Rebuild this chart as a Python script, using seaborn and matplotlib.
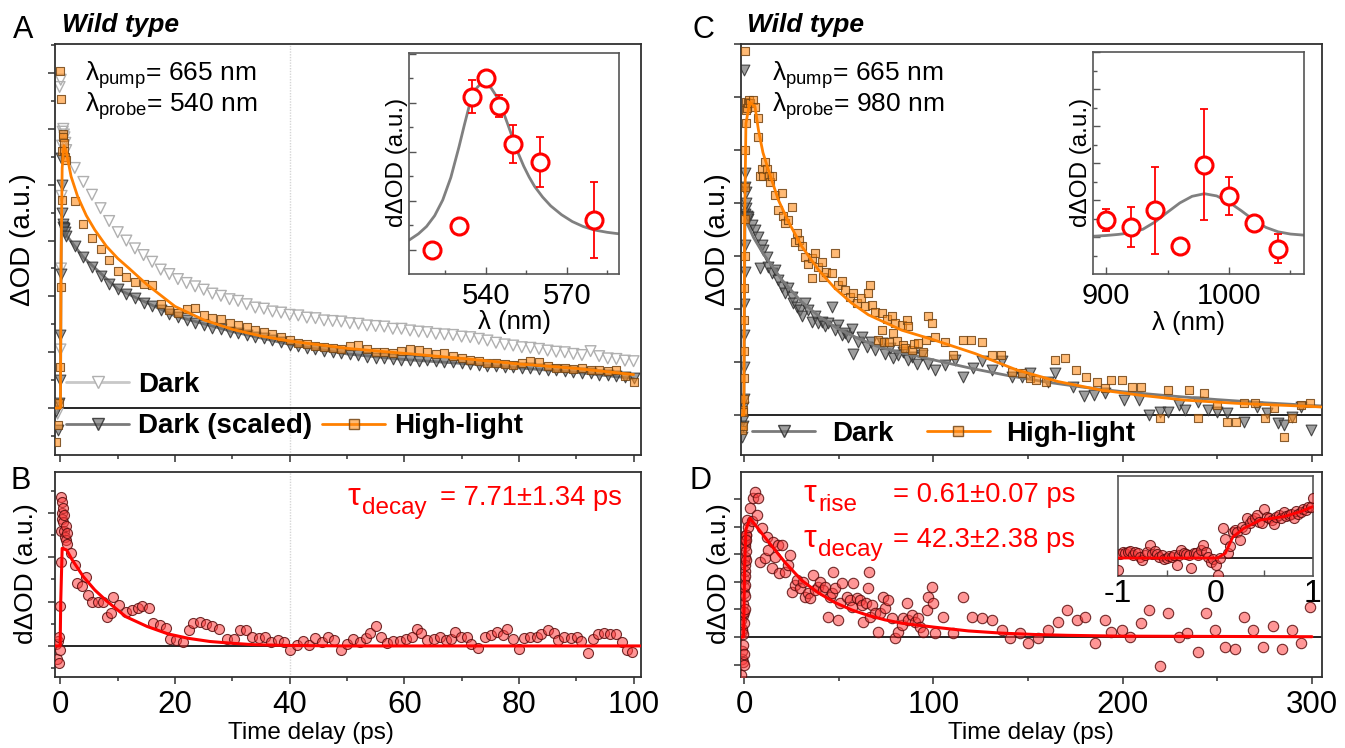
import numpy as np
import pandas as pd
import matplotlib
matplotlib.use("Agg")
import matplotlib.pyplot as plt
import seaborn as sns
from matplotlib.lines import Line2D
from matplotlib.ticker import MultipleLocator, FixedLocator

sns.set_theme(style="ticks")
plt.rcParams['font.family'] = ['Liberation Sans', 'DejaVu Sans']
plt.rcParams['mathtext.default'] = 'regular'
plt.rcParams['axes.unicode_minus'] = False
plt.rcParams['text.color'] = 'black'
plt.rcParams['axes.labelcolor'] = 'black'

# ------------------------- data: panel A (540 nm probe) -------------------------
t_a = [-0.7, -0.5, -0.3, -0.15, 0.0, 0.05, 0.1, 0.2, 0.3, 0.4, 0.5, 0.6, 0.7, 0.85,
       1, 2.5, 4, 5.5, 7, 8.5, 10, 11.5, 13, 14.5,
       16, 17.5, 19, 20.5, 22, 23.5, 25, 26.5, 28, 29.5,
       31, 32.5, 34, 35.5, 37, 38.5, 40, 41.5, 43, 44.5,
       46, 47.5, 49, 50.5, 52, 53.5, 55, 56.5, 58, 59.5,
       61, 62.5, 64, 65.5, 67, 68.5, 70, 71.5, 73, 74.5,
       76, 77.5, 79, 80.5, 82, 83.5, 85, 86.5, 88, 89.5,
       91, 92.5, 94, 95.5, 97, 98.5, 100]
dark_a = [0.0, -0.1, 0.05, 5.75, 1.05, 5.88, 2.5, 3.8, 4.7, 4.95, 5.0, 4.9, 4.85, 4.75,
          4.62, 4.30, 4.05, 3.82, 3.58, 3.35, 3.15, 3.00, 2.86, 2.74,
          2.62, 2.48, 2.40, 2.31, 2.24, 2.18, 2.12, 2.05, 2.01, 1.95,
          1.92, 1.86, 1.80, 1.78, 1.73, 1.71, 1.67, 1.66, 1.62, 1.61,
          1.57, 1.56, 1.55, 1.52, 1.51, 1.48, 1.47, 1.46, 1.42, 1.42,
          1.39, 1.37, 1.36, 1.33, 1.32, 1.31, 1.28, 1.27, 1.24, 1.21,
          1.17, 1.14, 1.12, 1.09, 1.08, 1.06, 1.03, 1.01, 1.00, 0.97,
          0.95, 1.02, 0.93, 0.89, 0.88, 0.85, 0.84]
dark_scaled_a = [-0.05, -0.4, 0.1, 0.5, 1.3, 4.47, 2.4, 4.0, 3.5, 3.3, 3.25, 3.2, 3.22, 3.15,
                 3.08, 2.90, 2.70, 2.52, 2.36, 2.22, 2.14, 2.05, 1.97, 1.88,
                 1.82, 1.76, 1.69, 1.63, 1.58, 1.53, 1.49, 1.44, 1.41, 1.37,
                 1.35, 1.31, 1.28, 1.26, 1.22, 1.18, 1.13, 1.11, 1.07, 1.05,
                 1.03, 1.00, 0.99, 0.96, 0.95, 0.92, 0.90, 0.89, 0.88, 0.87,
                 0.86, 0.85, 0.86, 0.84, 0.82, 0.82, 0.80, 0.79, 0.77, 0.76,
                 0.76, 0.74, 0.73, 0.72, 0.71, 0.70, 0.68, 0.68, 0.66, 0.65,
                 0.63, 0.62, 0.60, 0.59, 0.57, 0.55, 0.53]
high_a = [-0.6, -0.3, 0.1, 6.03, 0.74, 5.54, 2.17, 3.73, 4.6, 4.9, 4.85, 4.75, 4.6, 4.5,
          4.45, 3.70, 3.30, 3.05, 2.85, 2.66, 2.46, 2.34, 2.26, 2.22,
          2.20, 1.86, 1.75, 1.71, 1.77, 1.80, 1.67, 1.62, 1.59, 1.53,
          1.48, 1.45, 1.40, 1.36, 1.33, 1.27, 1.22, 1.17, 1.14, 1.11,
          1.10, 1.08, 1.06, 1.11, 1.13, 1.05, 1.01, 1.00, 0.98, 1.02,
          1.05, 1.04, 1.00, 0.97, 0.98, 0.93, 0.89, 0.86, 0.84, 0.80,
          0.81, 0.79, 0.77, 0.80, 0.84, 0.83, 0.76, 0.72, 0.71, 0.70,
          0.72, 0.68, 0.69, 0.67, 0.68, 0.58, 0.47]
fit_high_a = [(-0.9, 0), (0.0, 0), (0.1, 2.5), (0.3, 4.3), (0.6, 4.7), (1.0, 4.6), (1.85, 4.15),
              (3, 3.79), (4.5, 3.45), (6, 3.19), (8, 2.9), (10, 2.68), (12, 2.5), (15, 2.22),
              (20, 1.82), (25, 1.58), (30, 1.41), (35, 1.29), (40, 1.2), (50, 1.07), (60, 0.98),
              (70, 0.89), (80, 0.79), (90, 0.71), (100, 0.6)]
fit_dark_a = [(-0.9, 0), (0.0, 0), (0.15, 3.3), (1, 3.1), (4, 2.7), (10, 2.13), (20, 1.65),
              (30, 1.37), (40, 1.14), (50, 0.97), (60, 0.87), (70, 0.8), (80, 0.72), (90, 0.64),
              (100, 0.53)]

# inset A: amplitude spectrum
ins_a_wl = [520, 530, 535, 540, 545, 550, 560, 580]
ins_a_amp = [0.0, 0.48, 3.13, 3.50, 2.94, 2.16, 1.79, 0.61]
ins_a_err = [0.12, 0.0, 0.33, 0.10, 0.23, 0.39, 0.51, 0.77]
ins_a_fit = [(511.5, 0.20), (515, 0.33), (518, 0.48), (521, 0.70), (524, 1.02), (527, 1.48),
             (530, 2.10), (532, 2.55), (534, 2.98), (536, 3.27), (538, 3.39), (540, 3.40),
             (542, 3.30), (544, 3.13), (546, 2.88), (548, 2.58), (550, 2.27), (552, 1.97),
             (554, 1.71), (556, 1.49), (558, 1.30), (561, 1.08), (564, 0.90), (568, 0.72),
             (572, 0.58), (576, 0.48), (580, 0.41), (585, 0.36), (589.3, 0.33)]

# ------------------------- data: panel B (difference, 540 nm) -------------------------
diff_b = [(-0.8, 0.05), (-0.6, -0.3), (-0.45, 0.12), (-0.3, -0.38), (-0.2, 0.2), (-0.1, -0.1),
          (0.0, 0.9), (0.05, 1.9), (0.1, 2.6), (0.15, 3.36), (0.2, 3.25), (0.25, 3.0), (0.3, 2.85),
          (0.4, 3.1), (0.5, 2.8), (0.6, 2.6), (0.7, 2.95), (0.8, 2.45), (0.9, 2.7), (1.0, 2.39),
          (1.1, 2.55), (1.2, 2.3),
          (1.8, 2.09), (2.6, 1.82), (2.9, 1.41), (3.7, 1.34), (4.4, 1.56), (4.8, 1.15), (5.5, 1.0),
          (6.6, 1.0), (7.4, 1.0), (8.1, 0.66), (8.8, 0.74), (9.2, 1.11), (10.3, 0.92), (11.4, 0.77),
          (12.5, 0.81), (13.6, 0.85), (14.3, 0.89), (15.5, 0.85), (16.2, 0.51), (17.3, 0.47),
          (18.4, 0.40), (19.1, 0.16), (20.2, 0.14), (21.3, 0.10), (22.4, 0.36), (23.2, 0.51),
          (24.3, 0.55), (25.4, 0.50), (26.5, 0.46), (27.6, 0.38), (29.1, 0.16), (30.2, 0.16),
          (31.3, 0.35), (32.4, 0.36), (33.5, 0.20), (34.6, 0.19), (35.7, 0.21), (36.8, 0.08),
          (37.9, 0.14), (39.0, 0.08), (40.1, -0.09), (41.2, 0.02), (42.3, 0.11), (43.4, 0.02),
          (44.5, 0.17), (45.6, 0.10), (46.7, 0.21), (47.8, 0.14), (48.9, -0.09), (50.0, 0.05),
          (51.1, 0.15), (52.2, 0.10), (53.3, 0.17), (54.1, 0.29), (55.0, 0.46), (55.9, 0.21),
          (57.0, 0.06), (58.1, 0.11), (59.2, 0.11), (60.3, 0.16), (61.4, 0.21), (62.2, 0.38),
          (62.9, 0.29), (64.0, 0.14), (65.1, 0.16), (66.2, 0.21), (67.3, 0.14), (68.1, 0.15),
          (68.8, 0.31), (69.9, 0.21), (71.0, 0.21), (71.7, 0.05), (72.8, -0.05), (74.0, 0.20),
          (75.1, 0.25), (76.2, 0.31), (77.3, 0.25), (78.0, 0.38), (79.0, 0.16), (80.0, -0.07),
          (80.9, 0.17), (82.0, 0.21), (83.2, 0.20), (83.9, 0.26), (85.0, 0.35), (86.1, 0.29),
          (86.8, 0.14), (87.9, 0.21), (89.0, 0.17), (90.1, 0.21), (90.9, 0.11), (92.0, -0.17),
          (92.9, 0.15), (93.8, 0.26), (94.9, 0.29), (95.9, 0.26), (96.9, 0.26), (97.9, 0.10),
          (98.8, -0.09), (99.7, -0.14)]
fit_b = [(-0.95, 0), (-0.05, 0), (0.05, 1.0), (0.3, 2.2), (1.1, 2.16), (2, 1.95), (4, 1.56),
         (6, 1.26), (8, 1.02), (11.4, 0.66), (15.1, 0.44), (18.8, 0.27), (22.4, 0.17),
         (26.1, 0.1), (30, 0.06), (33.5, 0.03), (40, 0.01), (50, 0), (101.2, 0)]

# ------------------------- data: panel C (980 nm probe) -------------------------
high_c = [(-1.2, -0.28), (-0.8, 0.1), (-0.5, -0.2), (-0.3, 0.05), (-0.2, 0.3), (-0.1, 0.7),
          (0.0, 1.2), (0.1, 1.8), (0.2, 2.4), (0.3, 3.0), (0.4, 3.7), (0.5, 4.3), (0.6, 6.86),
          (0.7, 5.0), (0.8, 5.5), (1.0, 5.75), (1.2, 5.9), (1.5, 5.8), (2.0, 5.88), (2.5, 5.95),
          (3.2, 5.88), (4.6, 5.95), (5.8, 5.82), (7.2, 5.6), (7.6, 5.25), (8.5, 4.5), (9.3, 4.65),
          (10.2, 4.5), (11.1, 4.78), (12.0, 4.65), (13.0, 4.5), (13.7, 4.4), (14.6, 4.5),
          (16.4, 4.15), (18.0, 3.87), (19.9, 4.18), (20.8, 3.75), (21.7, 3.62), (23.4, 3.68),
          (25.2, 3.93), (26.9, 3.27), (27.8, 3.43), (29.0, 3.3), (30.5, 3.18), (32.2, 2.99),
          (34.0, 2.85), (35.7, 2.96), (35.9, 2.58), (37.5, 3.05), (39.0, 2.8), (41.0, 2.89),
          (41.9, 2.61), (43.5, 2.7), (46.3, 2.67), (48.0, 3.05), (49.5, 2.45), (51.6, 2.52),
          (53.3, 2.36), (56.0, 2.23), (57.5, 2.3), (59.5, 2.11), (62.0, 2.2), (64.0, 2.05),
          (65.7, 2.3), (66.5, 2.45), (67.4, 2.08), (69.2, 1.95), (71.0, 1.42), (72.7, 1.92),
          (72.9, 1.6), (74.0, 1.38), (75.4, 1.82), (76.5, 1.37), (78.0, 1.86), (78.5, 1.55),
          (79.8, 1.73), (81.0, 1.40), (83.3, 1.70), (84.0, 1.32), (85.0, 1.26), (85.9, 1.79),
          (86.8, 1.67), (88.5, 1.23), (90.0, 1.33), (92.0, 1.36), (94.7, 1.19), (96.0, 1.42),
          (97.4, 1.86), (99.1, 1.73), (100.9, 1.48), (106.0, 1.38), (110.6, 1.13), (115.8, 1.42),
          (120.0, 1.42), (125.5, 1.38), (130.8, 1.13), (136.0, 1.13), (141.4, 0.82),
          (146.7, 0.79), (151.0, 0.69), (154.0, 0.66), (159.6, 0.63), (164.0, 1.03),
          (169.6, 1.07), (175.1, 0.85), (180.7, 0.72), (186.2, 0.63), (190.7, 0.50),
          (194.0, 0.66), (199.6, 0.66), (205.1, 0.53), (209.6, 0.53), (219.6, -0.06),
          (224.0, 0.47), (235.2, 0.47), (239.6, -0.06), (243.0, 0.41), (249.6, 0.19),
          (255.2, -0.13), (259.7, -0.13), (264.1, 0.22), (269.7, 0.22), (275.2, -0.06),
          (279.7, 0.13), (285.2, -0.41), (289.7, -0.06), (294.1, 0.19), (299.2, 0.23)]
dark_c = [(-1.2, -0.41), (-0.8, -0.1), (-0.5, 0.15), (-0.3, -0.2), (-0.2, 0.3), (-0.1, 6.5),
          (0.0, 0.9), (0.1, 1.5), (0.2, 2.1), (0.3, 2.7), (0.4, 3.2), (0.5, 3.8), (0.6, 4.3),
          (0.7, 4.56), (0.8, 4.2), (1.0, 3.9), (1.2, 4.0), (1.5, 3.75), (2.0, 3.7),
          (2.3, 3.74), (4.0, 3.58), (5.8, 3.49), (7.6, 3.36), (8.5, 2.77), (9.5, 3.2),
          (10.2, 3.11), (12.0, 2.99), (12.9, 2.8), (14.6, 2.67), (16.4, 2.74), (18.1, 2.55),
          (19.9, 2.42), (21.7, 2.3), (23.4, 2.39), (25.2, 2.23), (26.0, 2.11), (27.8, 2.04),
          (29.6, 1.98), (30.5, 1.86), (32.2, 2.11), (34.0, 1.98), (35.7, 1.76), (37.5, 1.86),
          (39.3, 1.73), (41.0, 1.76), (42.8, 1.67), (44.5, 1.73), (46.3, 2.04), (48.0, 1.60),
          (49.8, 1.70), (51.6, 1.51), (53.3, 1.54), (55.1, 1.48), (56.9, 1.63), (57.7, 1.16),
          (60.4, 1.38), (62.2, 1.48), (64.8, 1.29), (67.0, 1.38), (69.2, 1.23), (72.7, 1.35),
          (74.5, 1.16), (77.0, 1.26), (78.9, 1.07), (81.5, 1.13), (84.2, 1.19), (86.8, 1.04),
          (88.6, 1.10), (91.2, 0.97), (93.8, 1.13), (97.4, 0.97), (100.9, 0.85), (106.0, 0.94),
          (111.4, 1.04), (115.8, 0.72), (121.1, 0.88), (125.5, 1.01), (130.8, 0.85),
          (136.1, 1.01), (141.4, 0.72), (146.7, 0.72), (151.0, 0.79), (160.7, 0.63),
          (164.0, 0.79), (174.0, 0.53), (179.6, 0.35), (185.1, 0.38), (190.7, 0.41),
          (200.7, 0.28), (208.5, 0.28), (214.0, 0.0), (219.6, 0.06), (224.0, 0.06),
          (229.6, 0.19), (233.0, 0.09), (239.6, 0.25), (245.2, 0.09), (249.6, 0.06),
          (255.2, 0.04), (264.1, -0.13), (270.8, 0.16), (276.3, 0.03), (281.9, -0.16),
          (285.2, -0.19), (289.7, -0.03), (294.1, 0.16), (299.7, -0.28)]
fit_high_c = [(-1.5, 0), (-0.1, 0), (0.3, 3.5), (1.0, 5.5), (3.0, 5.9), (5.8, 5.82), (7.6, 5.38),
              (10, 4.95), (12.9, 4.62), (18.1, 4.06), (23.4, 3.65), (30.5, 3.18), (39.3, 2.74),
              (48, 2.39), (56.9, 2.11), (65.7, 1.89), (83.3, 1.6), (100, 1.42), (122, 1.16),
              (144, 0.85), (166, 0.63), (188.5, 0.47), (210, 0.37), (233, 0.28), (260, 0.22),
              (300, 0.16), (305, 0.15)]
fit_dark_c = [(-1.5, 0), (-0.1, 0), (0.2, 2.0), (0.5, 3.7), (5, 3.35), (10, 3.05), (20, 2.55),
              (30, 2.15), (40, 1.85), (50, 1.62), (60, 1.45), (70, 1.3), (80, 1.2), (90, 1.12),
              (100, 1.04), (120, 0.88), (140, 0.74), (160, 0.62), (180, 0.52), (200, 0.44),
              (225, 0.36), (250, 0.29), (275, 0.23), (300, 0.18), (305, 0.17)]

# inset C: amplitude spectrum
ins_c_wl = [900, 920, 940, 960, 980, 1000, 1020, 1040]
ins_c_amp = [0.46, 0.28, 0.73, -0.24, 1.96, 1.11, 0.39, -0.31]
ins_c_err = [0.30, 0.55, 1.17, 0.0, 1.50, 0.51, 0.12, 0.39]
ins_c_fit = [(889.4, 0.03), (900, 0.05), (910, 0.08), (920, 0.12), (930, 0.22), (940, 0.42),
             (950, 0.68), (960, 0.93), (970, 1.11), (980, 1.18), (990, 1.12), (1000, 0.95),
             (1010, 0.72), (1020, 0.47), (1030, 0.27), (1040, 0.15), (1050, 0.09), (1061, 0.06)]

# ------------------------- data: panel D (difference, 980 nm) -------------------------
diff_d = [(-1.5, -1.38), (-1.4, 0.6), (-1.2, 0.2), (-1.1, -0.8), (-1.0, -0.5), (-0.9, 0.3),
          (-0.8, 0.8), (-0.7, 1.2), (-0.6, 0.1), (-0.5, -0.9), (-0.4, -0.3), (-0.3, 0.9),
          (-0.2, 0.5), (-0.15, 1.6), (-0.1, -1.0), (0.0, -0.6), (0.05, 2.1), (0.1, 0.9),
          (0.15, 2.8), (0.2, 1.8), (0.25, 3.4), (0.3, 2.4), (0.35, 1.0), (0.4, 1.5), (0.45, 3.6),
          (0.5, 2.9), (0.55, 2.2), (0.6, 3.3), (0.65, 3.5), (0.7, 2.6), (0.75, 1.9), (0.8, 3.7),
          (0.85, 2.8), (0.9, 3.1), (0.95, 3.7), (1.0, 3.5),
          (1.4, 4.24), (2.3, 4.0), (3.2, 4.66), (4.0, 4.2), (4.9, 5.02), (5.8, 5.27), (6.7, 4.42),
          (7.6, 5.02), (8.5, 2.73), (9.3, 3.94), (11.1, 2.85), (12.0, 3.64), (12.9, 3.15),
          (14.6, 2.49), (15.5, 3.45), (16.4, 2.91), (18.1, 3.33), (18.5, 2.31), (19.9, 3.33),
          (21.7, 2.37), (23.4, 2.61), (24.3, 2.97), (25.2, 1.64), (27.0, 1.88), (27.8, 2.07),
          (29.6, 1.76), (31.3, 2.0), (32.2, 1.46), (33.9, 1.58), (34.9, 1.40), (36.6, 2.25),
          (37.5, 1.70), (39.3, 1.82), (40.2, 2.0), (41.9, 1.70), (42.8, 1.82), (44.5, 0.74),
          (45.4, 1.46), (46.3, 1.58), (47.2, 2.37), (48.0, 1.76), (49.8, 0.62), (50.7, 1.22),
          (51.6, 1.94), (54.2, 1.46), (56.0, 1.34), (56.9, 1.10), (57.7, 1.94), (59.5, 1.40),
          (61.2, 1.34), (62.1, 1.16), (63.0, 0.56), (64.5, 1.22), (65.7, 1.76), (65.9, 2.37),
          (66.5, 0.74), (67.4, 1.16), (69.2, 0.86), (71.0, 0.19), (72.0, 0.86), (73.6, 1.46),
          (74.5, 1.04), (76.2, 1.34), (78.0, 0.68), (79.8, -0.05), (81.5, 0.19), (83.3, 0.43),
          (84.2, 0.68), (85.9, 1.22), (86.8, 0.62), (88.6, 0.80), (90.4, 0.56), (92.1, 0.68),
          (93.0, 0.37), (94.7, 0.19), (96.5, 0.98), (97.4, 1.46), (99.1, 1.82), (100.0, 1.22),
          (100.9, 0.13), (105.3, 0.74), (110.6, 0.13), (115.8, 1.46), (120.3, 0.74),
          (125.5, 0.68), (130.8, 0.62), (136.1, 0.25), (140.5, -0.05), (145.8, 0.13),
          (150.2, -0.23), (155.5, -0.05), (160.7, 0.25), (166.0, 0.56), (170.4, 0.98),
          (175.7, 0.62), (180.1, 0.74), (185.4, -0.23), (190.7, 0.62), (194.1, 0.19),
          (199.6, 0.25), (204.0, 0.01), (209.6, 0.50), (214.0, 0.98), (219.6, -1.04),
          (224.0, 0.86), (229.6, 0.01), (234.0, 0.13), (239.6, -0.56), (244.0, 0.86),
          (248.9, 0.25), (254.0, -0.35), (259.2, -0.45), (264.1, 0.74), (269.0, 0.25),
          (274.1, -0.35), (279.2, 0.41), (284.1, -0.45), (289.2, 0.25), (294.1, -0.23),
          (299.2, 1.10)]
fit_d = [(-1.5, 0), (-0.2, 0), (0.3, 2.5), (1.0, 3.9), (3.2, 4.3), (12.9, 3.45), (21.7, 2.7),
         (30.5, 2.05), (39.3, 1.6), (48, 1.25), (56.9, 0.98), (65.7, 0.78), (74.5, 0.62),
         (83.3, 0.5), (100, 0.36), (118.5, 0.22), (136, 0.14), (153.7, 0.09), (171, 0.06),
         (200, 0.03), (250, 0.02), (300, 0.01)]

# inset D: zoom on the rise, -1..1 ps
ins_d = [(-1.0, -0.9), (-0.975, 0.3), (-0.95, 0.45), (-0.925, 0.35), (-0.9, 0.45), (-0.875, 0.55),
         (-0.85, 0.2), (-0.825, 0.45), (-0.8, 0.35), (-0.775, 0.1), (-0.75, -0.15), (-0.725, 0.25),
         (-0.7, 0.5), (-0.675, 1.0), (-0.65, 0.3), (-0.625, 0.55), (-0.6, 0.3), (-0.575, 0.1),
         (-0.55, 0.25), (-0.525, -0.1), (-0.5, 0.0), (-0.475, 0.15), (-0.45, 0.05), (-0.425, 0.2),
         (-0.4, -0.55), (-0.375, 0.2), (-0.35, 0.6), (-0.325, 0.35), (-0.3, 0.3), (-0.275, 0.2),
         (-0.25, -0.8), (-0.225, 0.35), (-0.2, 0.4), (-0.175, 0.25), (-0.15, 0.6), (-0.125, 1.0),
         (-0.1, 0.45), (-0.075, 0.1), (-0.05, -0.3), (-0.025, -0.05), (0.0, -0.55), (0.025, -1.3),
         (0.05, 0.0), (0.075, 2.28), (0.1, 1.5), (0.125, 0.35), (0.15, 0.9), (0.175, 2.0),
         (0.2, 2.15), (0.225, 2.0), (0.25, 1.4), (0.275, 2.4), (0.3, 2.2), (0.325, 3.05),
         (0.35, 2.7), (0.375, 2.9), (0.4, 3.05), (0.425, 3.3), (0.45, 2.8), (0.475, 2.7),
         (0.5, 3.8), (0.525, 3.15), (0.55, 3.05), (0.575, 2.9), (0.6, 2.65), (0.625, 3.15),
         (0.65, 3.3), (0.675, 3.05), (0.7, 3.5), (0.725, 3.2), (0.75, 3.3), (0.775, 3.4),
         (0.8, 3.1), (0.825, 3.6), (0.85, 3.4), (0.875, 3.5), (0.9, 3.8), (0.925, 3.7),
         (0.95, 3.95), (0.975, 3.9), (1.0, 4.6)]
ins_d_fit = [(-1, 0), (0.02, 0), (0.1, 0.36), (0.18, 1.64), (0.29, 2.28), (0.46, 2.92),
             (0.7, 3.18), (0.87, 3.56), (1.0, 3.95)]

# ------------------------- styles -------------------------
RED_FC, RED_EC = (1.0, 0.25, 0.25, 0.55), (0.35, 0.05, 0.05, 0.85)
ORG_FC, ORG_EC = (1.0, 0.55, 0.1, 0.6), (0.45, 0.27, 0.08, 0.85)
GRY_FC, GRY_EC = (0.42, 0.42, 0.42, 0.65), (0.18, 0.18, 0.18, 0.85)
LGT_EC = '#b0b0b0'
ORANGE, GRAY, RED = '#ff8000', '#7a7a7a', '#ff0000'

W, H = 1345, 748
box_a = (55, 44, 641, 455)
box_b = (55, 472, 641, 677)
box_c = (741, 44, 1322, 455)
box_d = (741, 472, 1322, 677)
box_ia = (409, 53, 619, 274)
box_ic = (1093, 52, 1304, 274)
box_id = (1118, 476, 1313, 576)


def rect(b):
    l, t, r, bt = b
    return [l / W, 1 - bt / H, (r - l) / W, (bt - t) / H]


def to_ax(b, x, y):
    l, t, r, bt = b
    return (x - l) / (r - l), (bt - y) / (bt - t)


def dots(ax, x, y, marker, s, fc, ec, lw=0.8, z=3):
    sns.scatterplot(x=list(x), y=list(y), ax=ax, marker=marker, s=s, facecolor=fc,
                    edgecolor=ec, linewidth=lw, zorder=z, legend=False)


def fit(ax, pts, color, lw=2, z=4):
    x, y = zip(*pts)
    sns.lineplot(x=list(x), y=list(y), ax=ax, color=color, lw=lw, sort=False,
                 estimator=None, zorder=z)


def style_main(ax):
    for s in ax.spines.values():
        s.set_linewidth(1.3)
        s.set_color('#303030')
    ax.tick_params(which='both', direction='out', top=False, right=False,
                   labelleft=False, colors='#303030', labelcolor='black',
                   labelsize=22.5, width=1.1, pad=4.5)
    ax.tick_params(which='major', length=5)
    ax.tick_params(which='minor', length=3)
    ax.set_xlabel('')
    ax.set_ylabel('')


def style_inset(ax):
    for s in ax.spines.values():
        s.set_linewidth(1.2)
        s.set_color('#555555')
    ax.tick_params(which='both', direction='in', top=False, right=False,
                   labelleft=False, colors='#555555', labelcolor='black',
                   labelsize=21, width=1.0, pad=6)
    ax.tick_params(which='major', length=5)
    ax.tick_params(which='minor', length=3)
    ax.set_xlabel('')
    ax.set_ylabel('')


def tau(ax, box, x, base, sub, value, x_value):
    ax.text(*to_ax(box, x, base), 'τ', transform=ax.transAxes, color=RED, fontsize=23,
            ha='left', va='baseline')
    ax.text(*to_ax(box, x + 14, base + 9), sub, transform=ax.transAxes, color=RED,
            fontsize=17.5, ha='left', va='baseline')
    ax.text(*to_ax(box, x_value, base), value, transform=ax.transAxes, color=RED,
            fontsize=19.7, ha='left', va='baseline')


fig = plt.figure(figsize=(13.45, 7.48), dpi=100)
ax_a = fig.add_axes(rect(box_a))
ax_b = fig.add_axes(rect(box_b))
ax_c = fig.add_axes(rect(box_c))
ax_d = fig.add_axes(rect(box_d))

# ------------------------- panel A -------------------------
ax_a.axvline(40, color='#d5d5d5', lw=1, ls=(0, (1, 1)), zorder=0.5)
ax_a.axhline(0, color='black', lw=1.2, zorder=1.5)
dots(ax_a, t_a, dark_a, 'v', 60, 'none', LGT_EC, lw=1.0, z=2)
fit(ax_a, fit_dark_a, GRAY, z=2.5)
dots(ax_a, t_a, dark_scaled_a, 'v', 60, GRY_FC, GRY_EC, z=3)
dots(ax_a, t_a, high_a, 's', 38, ORG_FC, ORG_EC, z=3.5)
fit(ax_a, fit_high_a, ORANGE, z=4)
style_main(ax_a)
ax_a.set_xlim(-0.95, 101.3)
ax_a.set_ylim(-0.84, 6.52)
ax_a.xaxis.set_major_locator(MultipleLocator(20))
ax_a.xaxis.set_minor_locator(MultipleLocator(10))
ax_a.yaxis.set_major_locator(MultipleLocator(1))
ax_a.yaxis.set_minor_locator(MultipleLocator(0.5))
ax_a.tick_params(labelbottom=False)
ax_a.set_ylabel('ΔOD (a.u.)', fontsize=20)
ax_a.yaxis.set_label_coords(*to_ax(box_a, 36, 240))

h_dark = Line2D([], [], color='#c8c8c8', lw=2, marker='v', ms=9, mfc='white', mec=LGT_EC)
h_dscl = Line2D([], [], color=GRAY, lw=2, marker='v', ms=9, mfc=GRY_FC, mec=GRY_EC)
h_high = Line2D([], [], color=ORANGE, lw=2, marker='s', ms=7, mfc=ORG_FC, mec=ORG_EC)
h_none = Line2D([], [], linestyle='none')
ax_a.legend([h_dark, h_dscl, h_none, h_high], ['Dark', 'Dark (scaled)', '', 'High-light'],
            ncol=2, loc='upper left', bbox_to_anchor=to_ax(box_a, 66, 372), frameon=False,
            prop={'weight': 'bold', 'size': 20}, handlelength=2.27, handletextpad=0.32,
            columnspacing=0.36, labelspacing=0.55, borderpad=0, borderaxespad=0)

# ------------------------- panel B -------------------------
ax_b.axvline(40, color='#d5d5d5', lw=1, ls=(0, (1, 1)), zorder=0.5)
ax_b.axhline(0, color='black', lw=1.2, zorder=1.5)
bx, by = zip(*diff_b)
dots(ax_b, bx, by, 'o', 52, RED_FC, RED_EC, z=3)
fit(ax_b, fit_b, RED, lw=2.2, z=4)
style_main(ax_b)
ax_b.set_xlim(-0.95, 101.3)
ax_b.set_ylim(-0.70, 3.92)
ax_b.xaxis.set_major_locator(MultipleLocator(20))
ax_b.xaxis.set_minor_locator(MultipleLocator(10))
ax_b.yaxis.set_major_locator(MultipleLocator(1))
ax_b.yaxis.set_minor_locator(MultipleLocator(0.5))
ax_b.set_ylabel('dΔOD (a.u.)', fontsize=19)
ax_b.yaxis.set_label_coords(*to_ax(box_b, 38, 574))
ax_b.set_xlabel('Time delay (ps)', fontsize=17.5)
ax_b.xaxis.set_label_coords(*to_ax(box_b, 311, 722))
tau(ax_b, box_b, 348, 505, 'decay', '= 7.71±1.34 ps', 440)

# ------------------------- panel C -------------------------
ax_c.axhline(0, color='black', lw=1.2, zorder=1.5)
cx, cy = zip(*dark_c)
dots(ax_c, cx, cy, 'v', 60, GRY_FC, GRY_EC, z=2)
fit(ax_c, fit_dark_c, GRAY, z=2.5)
hx, hy = zip(*high_c)
dots(ax_c, hx, hy, 's', 40, ORG_FC, ORG_EC, z=3)
fit(ax_c, fit_high_c, ORANGE, z=4)
style_main(ax_c)
ax_c.set_xlim(-1.6, 305.3)
ax_c.set_ylim(-0.755, 7.0)
ax_c.xaxis.set_major_locator(MultipleLocator(100))
ax_c.xaxis.set_minor_locator(MultipleLocator(50))
ax_c.yaxis.set_major_locator(MultipleLocator(1))
ax_c.tick_params(labelbottom=False)
ax_c.set_ylabel('ΔOD (a.u.)', fontsize=20)
ax_c.yaxis.set_label_coords(*to_ax(box_c, 731, 240))
h_dark_c = Line2D([], [], color=GRAY, lw=2, marker='v', ms=9, mfc=GRY_FC, mec=GRY_EC)
ax_c.legend([h_dark_c, h_high], ['Dark', 'High-light'], ncol=2, loc='upper left',
            bbox_to_anchor=to_ax(box_c, 752, 421), frameon=False,
            prop={'weight': 'bold', 'size': 20}, handlelength=2.27, handletextpad=0.6,
            columnspacing=1.2, borderpad=0, borderaxespad=0)

# ------------------------- panel D -------------------------
ax_d.axhline(0, color='black', lw=1.2, zorder=1.5)
dx, dy = zip(*diff_d)
dots(ax_d, dx, dy, 'o', 56, RED_FC, RED_EC, z=3)
fit(ax_d, fit_d, RED, lw=2.2, z=4)
style_main(ax_d)
ax_d.set_xlim(-1.6, 305.3)
ax_d.set_ylim(-1.45, 5.98)
ax_d.xaxis.set_major_locator(MultipleLocator(100))
ax_d.xaxis.set_minor_locator(MultipleLocator(50))
ax_d.yaxis.set_major_locator(MultipleLocator(1))
ax_d.set_ylabel('dΔOD (a.u.)', fontsize=19)
ax_d.yaxis.set_label_coords(*to_ax(box_d, 731, 574))
ax_d.set_xlabel('Time delay (ps)', fontsize=17.5)
ax_d.xaxis.set_label_coords(*to_ax(box_d, 1031, 722))
tau(ax_d, box_d, 804, 502, 'rise', '= 0.61±0.07 ps', 893)
tau(ax_d, box_d, 804, 547, 'decay', '= 42.3±2.38 ps', 893)

# ------------------------- insets -------------------------
in_a = fig.add_axes(rect(box_ia))
fit(in_a, ins_a_fit, '#808080', lw=2, z=2)
in_a.errorbar(ins_a_wl, ins_a_amp, yerr=ins_a_err, fmt='none', ecolor=RED, elinewidth=1.3,
              capsize=3, capthick=1.3, zorder=3)
dots(in_a, ins_a_wl, ins_a_amp, 'o', 150, 'white', RED, lw=2.2, z=4)
style_inset(in_a)
in_a.set_xlim(511.5, 589.3)
in_a.set_ylim(-0.49, 4.02)
in_a.xaxis.set_major_locator(FixedLocator([540, 570]))
in_a.xaxis.set_minor_locator(FixedLocator([525, 555, 585]))
in_a.yaxis.set_major_locator(MultipleLocator(1))
in_a.yaxis.set_minor_locator(MultipleLocator(0.5))
in_a.set_xlabel('λ (nm)', fontsize=18.5)
in_a.xaxis.set_label_coords(*to_ax(box_ia, 515, 310))
in_a.set_ylabel('dΔOD (a.u.)', fontsize=17.5)
in_a.yaxis.set_label_coords(*to_ax(box_ia, 408, 162))

in_c = fig.add_axes(rect(box_ic))
fit(in_c, ins_c_fit, '#808080', lw=2, z=2)
in_c.errorbar(ins_c_wl, ins_c_amp, yerr=ins_c_err, fmt='none', ecolor=RED, elinewidth=1.3,
              capsize=3, capthick=1.3, zorder=3)
dots(in_c, ins_c_wl, ins_c_amp, 'o', 150, 'white', RED, lw=2.2, z=4)
style_inset(in_c)
in_c.set_xlim(889.4, 1061)
in_c.set_ylim(-0.99, 5.01)
in_c.xaxis.set_major_locator(FixedLocator([900, 1000]))
in_c.xaxis.set_minor_locator(FixedLocator([950, 1050]))
in_c.yaxis.set_major_locator(MultipleLocator(1))
in_c.yaxis.set_minor_locator(MultipleLocator(0.5))
in_c.set_xlabel('λ (nm)', fontsize=18.5)
in_c.xaxis.set_label_coords(*to_ax(box_ic, 1188, 311))
in_c.set_ylabel('dΔOD (a.u.)', fontsize=17.5)
in_c.yaxis.set_label_coords(*to_ax(box_ic, 1092, 162))

in_d = fig.add_axes(rect(box_id))
in_d.axhline(0, color='black', lw=1.2, zorder=1.5)
ix, iy = zip(*ins_d)
dots(in_d, ix, iy, 'o', 52, RED_FC, RED_EC, z=3)
fit(in_d, ins_d_fit, RED, lw=2, z=4)
style_inset(in_d)
in_d.set_xlim(-1, 1)
in_d.set_ylim(-1.38, 6.3)
in_d.set_yticks([])
in_d.xaxis.set_major_locator(FixedLocator([-1, 0, 1]))
in_d.xaxis.set_minor_locator(FixedLocator([-0.5, 0.5]))
in_d.tick_params(which='major', length=0, pad=2, labelsize=23)
in_d.tick_params(which='minor', length=4)

# ------------------------- panel labels and notes -------------------------
fig.text(23 / W, 1 - 30 / H, 'A', fontsize=22, ha='center', va='center')
fig.text(703 / W, 1 - 30 / H, 'C', fontsize=22, ha='center', va='center')
fig.text(21 / W, 1 - 481 / H, 'B', fontsize=22, ha='center', va='center')
fig.text(701 / W, 1 - 481 / H, 'D', fontsize=22, ha='center', va='center')
for x0 in (62, 747):
    fig.text(x0 / W, 1 - 25 / H, 'Wild type', fontsize=19, weight='bold', style='italic',
             ha='left', va='center')
for x0, probe in ((85, '540 nm'), (772, '980 nm')):
    fig.text(x0 / W, 1 - 81 / H, 'λ$_{pump}$= 665 nm', fontsize=19, ha='left', va='baseline')
    fig.text(x0 / W, 1 - 112 / H, 'λ$_{probe}$= ' + probe, fontsize=19, ha='left', va='baseline')

fig.savefig('out.png', dpi=100)
